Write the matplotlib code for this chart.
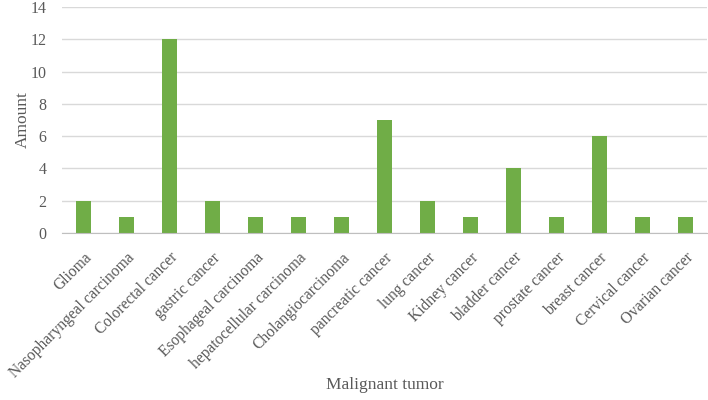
import matplotlib
matplotlib.use("Agg")
import matplotlib.pyplot as plt

categories = ["Glioma", "Nasopharyngeal carcinoma", "Colorectal cancer", "gastric cancer",
              "Esophageal carcinoma", "hepatocellular carcinoma", "Cholangiocarcinoma",
              "pancreatic cancer", "lung cancer", "Kidney cancer", "bladder cancer",
              "prostate cancer", "breast cancer", "Cervical cancer", "Ovarian cancer"]
amounts = [2, 1, 12, 2, 1, 1, 1, 7, 2, 1, 4, 1, 6, 1, 1]
yticks = [0, 2, 4, 6, 8, 10, 12, 14]

plt.rcParams['font.family'] = ['Liberation Serif', 'DejaVu Serif']
text_color = '#595959'

fig = plt.figure(figsize=(7.08, 4.0), dpi=100)
ax = fig.add_axes([62/708, 1-233/400, 645/708, 226/400])
x = list(range(len(categories)))
ax.bar(x, amounts, width=0.33, color='#70AD47', zorder=3)
ax.set_xlim(-0.5, len(categories)-0.5)
ax.set_ylim(0, 14)
ax.set_yticks(yticks)
ax.set_yticklabels([str(v) for v in yticks], fontsize=11.5, color=text_color)
ax.set_xticks(x)
ax.set_xticklabels(categories, rotation=45, ha='right', rotation_mode='anchor',
                   fontsize=11.2, color=text_color)
ax.tick_params(axis='both', length=0)
ax.tick_params(axis='x', pad=12)
ax.tick_params(axis='y', pad=11)
ax.yaxis.grid(True, color='#D9D9D9', linewidth=1, zorder=0)
for s in ['top', 'right', 'left']:
    ax.spines[s].set_visible(False)
ax.spines['bottom'].set_color('#BFBFBF')
ax.spines['bottom'].set_zorder(4)
ax.set_ylabel('Amount', fontsize=12.5, color=text_color)
ax.yaxis.set_label_coords(-0.0485, 0.5)
fig.text(385/708, 1-385/400, 'Malignant tumor', ha='center', va='center',
         fontsize=12.5, color=text_color)
fig.savefig('out.png', dpi=100)
